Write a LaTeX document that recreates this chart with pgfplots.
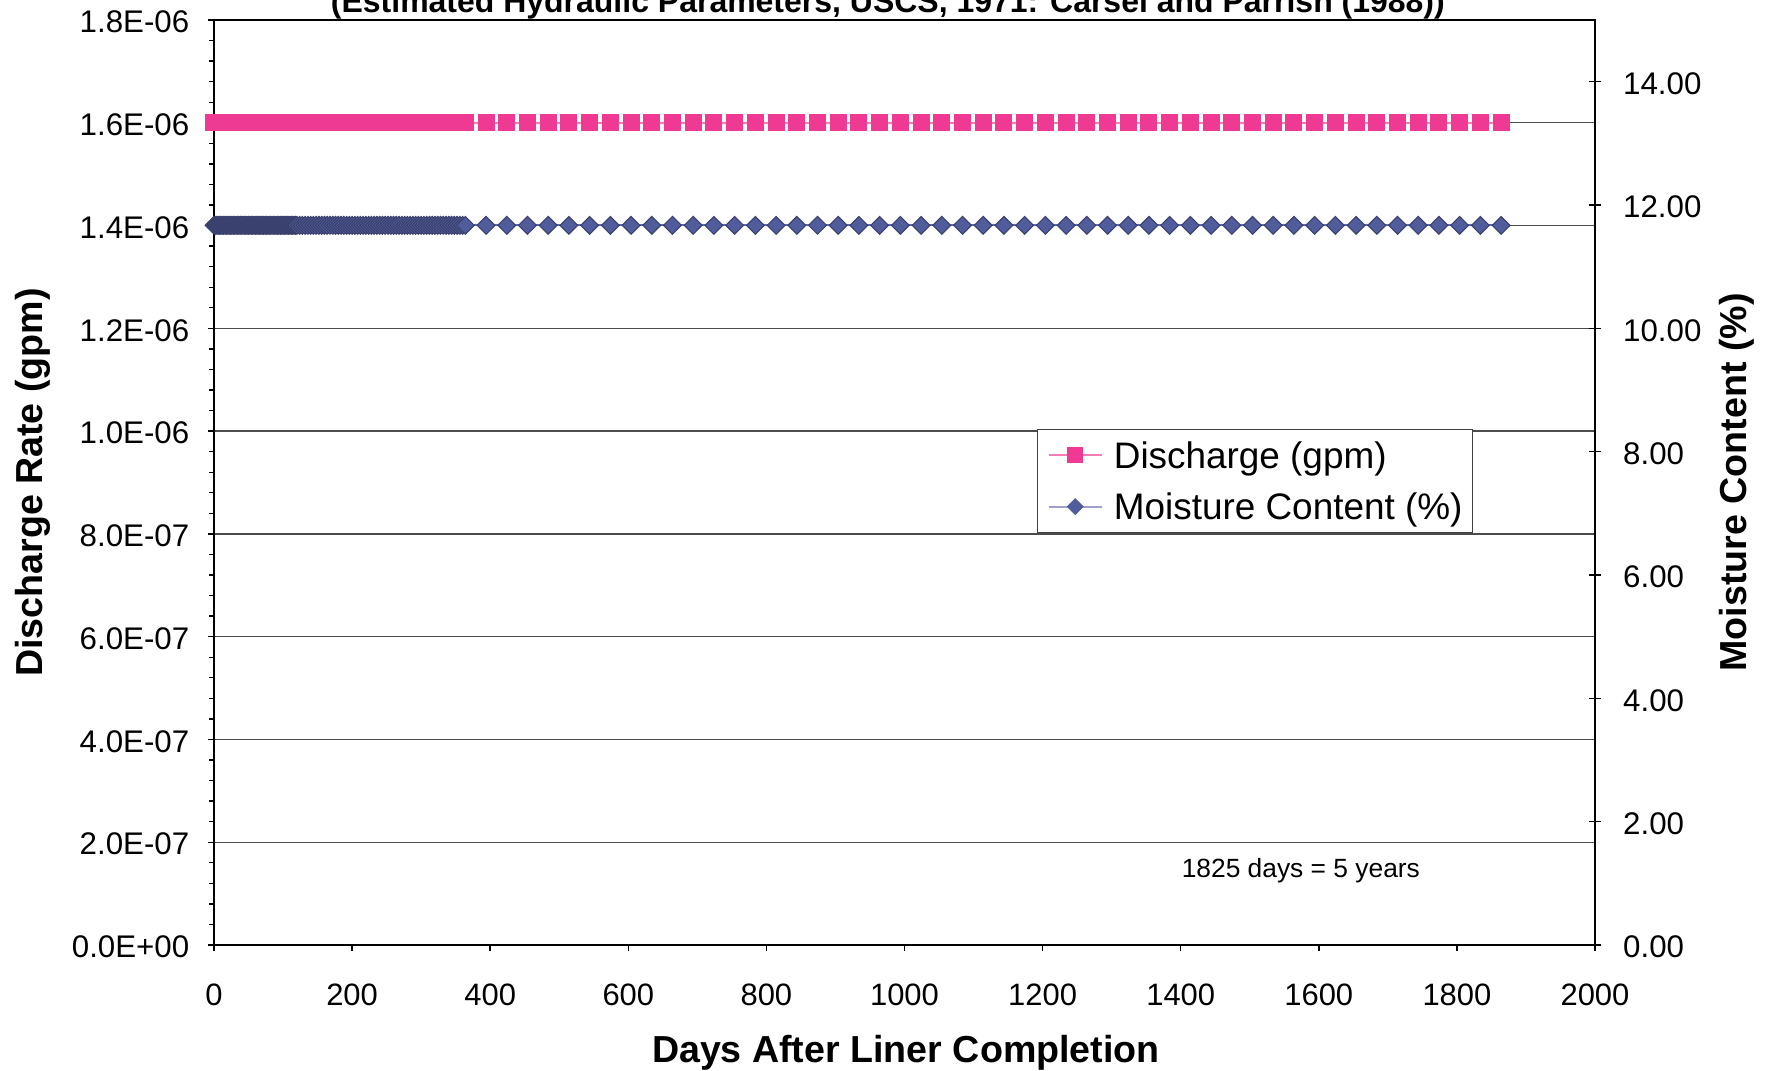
\documentclass[border=0pt]{standalone}
\usepackage{fontspec}
\setmainfont{Liberation Sans}
\usepackage{pgfplots}
\pgfplotsset{compat=1.18}
\usepackage{pgfplotstable}

\definecolor{pinkq}{RGB}{238,58,146}
\definecolor{pinkline}{RGB}{245,125,182}
\definecolor{slate}{RGB}{80,92,155}
\definecolor{slateedge}{RGB}{58,64,108}
\definecolor{slateline}{RGB}{92,104,182}
\definecolor{legline}{RGB}{160,160,205}

\pgfplotstableread[row sep=\\]{
day q m\\
0 1.6e-6 11.67\\ 2 1.6e-6 11.67\\ 4 1.6e-6 11.67\\ 6 1.6e-6 11.67\\ 8 1.6e-6 11.67\\ 10 1.6e-6 11.67\\
12 1.6e-6 11.67\\ 14 1.6e-6 11.67\\ 16 1.6e-6 11.67\\ 18 1.6e-6 11.67\\ 20 1.6e-6 11.67\\ 22 1.6e-6 11.67\\
24 1.6e-6 11.67\\ 26 1.6e-6 11.67\\ 28 1.6e-6 11.67\\ 30 1.6e-6 11.67\\ 32 1.6e-6 11.67\\ 34 1.6e-6 11.67\\
36 1.6e-6 11.67\\ 38 1.6e-6 11.67\\ 40 1.6e-6 11.67\\ 42 1.6e-6 11.67\\ 44 1.6e-6 11.67\\ 46 1.6e-6 11.67\\
48 1.6e-6 11.67\\ 50 1.6e-6 11.67\\ 52 1.6e-6 11.67\\ 54 1.6e-6 11.67\\ 56 1.6e-6 11.67\\ 58 1.6e-6 11.67\\
60 1.6e-6 11.67\\ 62 1.6e-6 11.67\\ 64 1.6e-6 11.67\\ 66 1.6e-6 11.67\\ 68 1.6e-6 11.67\\ 70 1.6e-6 11.67\\
72 1.6e-6 11.67\\ 74 1.6e-6 11.67\\ 76 1.6e-6 11.67\\ 78 1.6e-6 11.67\\ 80 1.6e-6 11.67\\ 82 1.6e-6 11.67\\
84 1.6e-6 11.67\\ 86 1.6e-6 11.67\\ 88 1.6e-6 11.67\\ 90 1.6e-6 11.67\\ 92 1.6e-6 11.67\\ 94 1.6e-6 11.67\\
96 1.6e-6 11.67\\ 98 1.6e-6 11.67\\ 100 1.6e-6 11.67\\ 102 1.6e-6 11.67\\ 104 1.6e-6 11.67\\ 106 1.6e-6 11.67\\
108 1.6e-6 11.67\\ 110 1.6e-6 11.67\\ 112 1.6e-6 11.67\\ 114 1.6e-6 11.67\\ 116 1.6e-6 11.67\\ 118 1.6e-6 11.67\\
120 1.6e-6 11.67\\ 124 1.6e-6 11.67\\ 128 1.6e-6 11.67\\ 132 1.6e-6 11.67\\ 136 1.6e-6 11.67\\ 140 1.6e-6 11.67\\
144 1.6e-6 11.67\\ 148 1.6e-6 11.67\\ 152 1.6e-6 11.67\\ 156 1.6e-6 11.67\\ 160 1.6e-6 11.67\\ 164 1.6e-6 11.67\\
168 1.6e-6 11.67\\ 172 1.6e-6 11.67\\ 176 1.6e-6 11.67\\ 180 1.6e-6 11.67\\ 184 1.6e-6 11.67\\ 188 1.6e-6 11.67\\
192 1.6e-6 11.67\\ 196 1.6e-6 11.67\\ 200 1.6e-6 11.67\\ 204 1.6e-6 11.67\\ 208 1.6e-6 11.67\\ 212 1.6e-6 11.67\\
216 1.6e-6 11.67\\ 220 1.6e-6 11.67\\ 224 1.6e-6 11.67\\ 228 1.6e-6 11.67\\ 232 1.6e-6 11.67\\ 236 1.6e-6 11.67\\
240 1.6e-6 11.67\\ 244 1.6e-6 11.67\\ 248 1.6e-6 11.67\\ 252 1.6e-6 11.67\\ 256 1.6e-6 11.67\\ 260 1.6e-6 11.67\\
264 1.6e-6 11.67\\ 268 1.6e-6 11.67\\ 272 1.6e-6 11.67\\ 276 1.6e-6 11.67\\ 280 1.6e-6 11.67\\ 284 1.6e-6 11.67\\
288 1.6e-6 11.67\\ 292 1.6e-6 11.67\\ 296 1.6e-6 11.67\\ 300 1.6e-6 11.67\\ 304 1.6e-6 11.67\\ 308 1.6e-6 11.67\\
312 1.6e-6 11.67\\ 316 1.6e-6 11.67\\ 320 1.6e-6 11.67\\ 324 1.6e-6 11.67\\ 328 1.6e-6 11.67\\ 332 1.6e-6 11.67\\
336 1.6e-6 11.67\\ 340 1.6e-6 11.67\\ 344 1.6e-6 11.67\\ 348 1.6e-6 11.67\\ 352 1.6e-6 11.67\\ 356 1.6e-6 11.67\\
360 1.6e-6 11.67\\ 364 1.6e-6 11.67\\
394 1.6e-6 11.67\\ 424 1.6e-6 11.67\\ 454 1.6e-6 11.67\\ 484 1.6e-6 11.67\\ 514 1.6e-6 11.67\\ 544 1.6e-6 11.67\\
574 1.6e-6 11.67\\ 604 1.6e-6 11.67\\ 634 1.6e-6 11.67\\ 664 1.6e-6 11.67\\ 694 1.6e-6 11.67\\ 724 1.6e-6 11.67\\
754 1.6e-6 11.67\\ 784 1.6e-6 11.67\\ 814 1.6e-6 11.67\\ 844 1.6e-6 11.67\\ 874 1.6e-6 11.67\\ 904 1.6e-6 11.67\\
934 1.6e-6 11.67\\ 964 1.6e-6 11.67\\ 994 1.6e-6 11.67\\ 1024 1.6e-6 11.67\\ 1054 1.6e-6 11.67\\ 1084 1.6e-6 11.67\\
1114 1.6e-6 11.67\\ 1144 1.6e-6 11.67\\ 1174 1.6e-6 11.67\\ 1204 1.6e-6 11.67\\ 1234 1.6e-6 11.67\\ 1264 1.6e-6 11.67\\
1294 1.6e-6 11.67\\ 1324 1.6e-6 11.67\\ 1354 1.6e-6 11.67\\ 1384 1.6e-6 11.67\\ 1414 1.6e-6 11.67\\ 1444 1.6e-6 11.67\\
1474 1.6e-6 11.67\\ 1504 1.6e-6 11.67\\ 1534 1.6e-6 11.67\\ 1564 1.6e-6 11.67\\ 1594 1.6e-6 11.67\\ 1624 1.6e-6 11.67\\
1654 1.6e-6 11.67\\ 1684 1.6e-6 11.67\\ 1714 1.6e-6 11.67\\ 1744 1.6e-6 11.67\\ 1774 1.6e-6 11.67\\ 1804 1.6e-6 11.67\\
1834 1.6e-6 11.67\\ 1864 1.6e-6 11.67\\
}\data

\begin{document}
\begin{tikzpicture}
\begin{axis}[
  at={(0,0)}, anchor=south west,
  width=138.1mm, height=92.5mm, scale only axis,
  xmin=0, xmax=2000, ymin=0, ymax=1.8e-6,
  clip=false,
  tick pos=left,
  tick align=outside,
  xtick={0,200,...,2000},
  ytick={0,2e-7,4e-7,6e-7,8e-7,1e-6,1.2e-6,1.4e-6,1.6e-6,1.8e-6},
  yticklabels={0.0E+00,2.0E-07,4.0E-07,6.0E-07,8.0E-07,1.0E-06,1.2E-06,1.4E-06,1.6E-06,1.8E-06},
  scaled y ticks=false, scaled x ticks=false,
  minor y tick num=4,
  major tick length=0.6mm, minor tick length=0.5mm,
  ymajorgrids,
  major grid style={black!70, line width=0.4pt},
  axis line style={black, line width=0.6pt},
  tick style={black, line width=0.4pt},
  /pgf/number format/assume math mode=true,
  /pgf/number format/1000 sep={},
  xticklabel style={font=\fontsize{8.8}{10}\selectfont, inner sep=0pt, anchor=north, yshift=-3.2mm},
  yticklabel style={font=\fontsize{8.9}{10}\selectfont, inner sep=0pt, anchor=east, xshift=-1.8mm, yshift=-0.2mm},
  xlabel={Days After Liner Completion},
  xlabel style={at={(axis description cs:0.501,-0.1265)}, anchor=base, inner sep=0pt, font=\fontsize{10.7}{12}\selectfont\bfseries},
  ylabel={Discharge Rate (gpm)},
  ylabel style={at={(axis description cs:-0.1245,0.5)}, anchor=base, inner sep=0pt, font=\fontsize{10.7}{12}\selectfont\bfseries},
  title={(Estimated Hydraulic Parameters, USCS, 1971: Carsel and Parrish (1988))},
  every axis title/.style={at={(axis description cs:0.488,1.0076)}, anchor=base, inner sep=0pt, font=\fontsize{9.1}{11}\selectfont\bfseries},
]
\addplot[pinkline, line width=0.6pt, mark=square*, mark size=0.8mm,
  mark options={fill=pinkq, draw=pinkq, line width=0.3pt}]
  table[x=day, y=q]{\data};
\node[font=\fontsize{7.5}{9}\selectfont] at (axis cs:1574,1.44e-7) {1825 days = 5 years};
\end{axis}
\begin{axis}[
  at={(0,0)}, anchor=south west,
  width=138.1mm, height=92.5mm, scale only axis,
  xmin=0, xmax=2000, ymin=0, ymax=15,
  clip=false,
  axis x line=none, axis y line*=right,
  ytick={0,2,4,6,8,10,12,14},
  yticklabels={0.00,2.00,4.00,6.00,8.00,10.00,12.00,14.00},
  tick align=center, major tick length=1.2mm,
  axis line style={black, line width=0.6pt},
  tick style={black, line width=0.4pt},
  yticklabel style={font=\fontsize{8.9}{10}\selectfont, inner sep=0pt, anchor=west, xshift=2.15mm, yshift=-0.2mm},
  ylabel={Moisture Content (\%)},
  ylabel style={at={(axis description cs:1.110,0.5)}, anchor=base, inner sep=0pt, font=\fontsize{10.7}{12}\selectfont\bfseries},
  legend style={at={(axis description cs:0.596,0.558)}, anchor=north west,
    draw=black!75, line width=0.4pt, fill=white,
    inner xsep=1mm, inner ysep=0.9mm, row sep=1.8mm, column sep=1.1mm,
    nodes={inner sep=0pt, text height=0.85em, text depth=0.1em},
    font=\fontsize{10.5}{12.6}\selectfont, cells={anchor=west}},
  legend image code/.code={\draw[mark repeat=2,mark phase=2] plot coordinates {(0mm,0mm) (2.65mm,0mm) (5.3mm,0mm)};},
]
\addlegendimage{pinkline, line width=0.6pt, mark=square*, mark size=0.75mm, mark options={fill=pinkq, draw=pinkq, line width=0.3pt}}
\addlegendentry{Discharge (gpm)}
\addlegendimage{legline, line width=0.6pt, mark=square*, mark size=0.55mm, mark options={rotate=45, fill=slate, draw=slate, line width=0.3pt}}
\addlegendentry{Moisture Content (\%)}
\addplot[forget plot, slateline, line width=0.6pt, mark=square*, mark size=0.63mm,
  mark options={rotate=45, fill=slate, draw=slateedge, line width=0.3pt}]
  table[x=day, y=m]{\data};
\end{axis}
\pgfresetboundingbox
\useasboundingbox (-21.4mm,-12.6mm) rectangle (155.5mm,94.5mm);
\end{tikzpicture}
\end{document}
